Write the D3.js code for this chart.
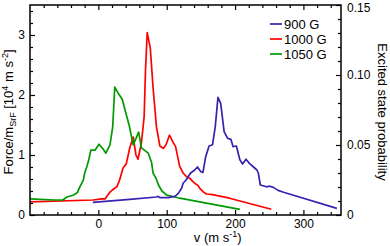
<!DOCTYPE html>
<html>
<head>
<meta charset="utf-8">
<script src="https://cdn.jsdelivr.net/npm/d3@7"></script>
<style>
  body { margin: 0; background: #fff; }
  text { font-family: "Liberation Sans", Arial, Helvetica, sans-serif; }
</style>
</head>
<body>
<svg id="chart"></svg>
<script>
// legend / series names
const seriesNames = ['900 G', '1000 G', '1050 G'];

// 900 G : velocity (m/s) and force (10^4 m s^-2)
const v900 = [-8, 46, 85, 87, 90, 102, 112, 117, 122, 124, 128, 135, 141, 145, 150, 153, 157, 162, 167, 171, 175, 179, 184, 189, 194, 197, 202, 207, 211, 216, 221, 227, 232, 234, 237, 246, 251, 256, 263, 271, 349];
const f900 = [0.21, 0.26, 0.30, 0.31, 0.29, 0.29, 0.31, 0.36, 0.45, 0.53, 0.58, 0.70, 0.75, 0.80, 0.72, 0.71, 0.97, 1.15, 1.17, 1.47, 1.96, 1.86, 1.39, 1.28, 1.26, 1.14, 1.15, 0.92, 0.85, 0.93, 0.86, 0.80, 0.75, 0.70, 0.50, 0.47, 0.48, 0.46, 0.41, 0.38, 0.11];

// 1000 G
const v1000 = [-100, -8, 5, 10, 13, 17, 22, 27, 31, 36, 41, 46, 51, 55, 58, 63, 67, 69, 71.5, 76, 80, 85, 90, 95, 99, 104, 109, 113, 119, 124, 128, 134, 138, 141, 146, 148, 153, 158, 167, 192, 253];
const f1000 = [0.22, 0.25, 0.27, 0.27, 0.32, 0.38, 0.43, 0.47, 0.58, 0.78, 0.86, 1.12, 1.30, 1.00, 0.93, 1.20, 1.64, 2.42, 3.04, 2.78, 2.13, 1.47, 1.15, 1.11, 1.17, 1.33, 1.22, 1.14, 0.81, 0.70, 0.65, 0.61, 0.56, 0.53, 0.49, 0.45, 0.39, 0.35, 0.34, 0.28, 0.095];

// 1050 G
const v1050 = [-100, -64, -52, -46, -37, -31, -27, -22, -20, -17, -14, -11, -5, 1, 7, 11, 17, 21, 24, 29, 35, 39, 45, 51, 59, 63, 73, 78, 80, 84, 88, 93, 100, 112, 119, 207];
const f1050 = [0.27, 0.25, 0.25, 0.30, 0.33, 0.37, 0.47, 0.58, 0.70, 0.80, 0.92, 1.08, 1.08, 1.18, 1.10, 1.03, 1.17, 1.47, 2.13, 2.03, 1.93, 1.75, 1.50, 1.17, 1.38, 1.12, 1.03, 0.87, 0.70, 0.62, 0.50, 0.40, 0.33, 0.30, 0.28, 0.095];

// axis ticks
const xMajor = [0, 100, 200, 300];
const yLeftMajor = [0, 1, 2, 3];
const yRightMajor = [0, 0.05, 0.10, 0.15];
const yRightLabels = ['0', '0.05', '0.10', '0.15'];

const width = 390, height = 246;
const L = 30, R = 341, T = 5, B = 215;

const svg = d3.select('#chart')
  .attr('width', width)
  .attr('height', height);

const x = d3.scaleLinear().domain([-100, 355]).range([L, R]);
const y = d3.scaleLinear().domain([0, 3.5]).range([B, T]);
const y2 = d3.scaleLinear().domain([0, 0.15]).range([B, T]);

const colors = ['#3a22b0', '#ff0000', '#009a00'];
const series = [
  { name: seriesNames[0], v: v900, f: f900, color: colors[0] },
  { name: seriesNames[1], v: v1000, f: f1000, color: colors[1] },
  { name: seriesNames[2], v: v1050, f: f1050, color: colors[2] }
];

// curves
const line = d3.line()
  .x(d => x(d[0]))
  .y(d => y(d[1]));

[series[1], series[2], series[0]].forEach(s => {
  svg.append('path')
    .datum(s.v.map((vv, i) => [vv, s.f[i]]))
    .attr('fill', 'none')
    .attr('stroke', s.color)
    .attr('stroke-width', 1.7)
    .attr('stroke-linejoin', 'round')
    .attr('d', line);
});

// axes, ticks pointing inward
function styleAxis(g) {
  g.select('.domain').remove();
  g.selectAll('line').attr('stroke', '#000').attr('stroke-width', 1.2);
  g.selectAll('text').attr('font-size', 12).attr('fill', '#000')
    .style('font-family', '"Liberation Sans", Arial, sans-serif');
}

const xMinor = d3.range(-80, 355, 20).filter(d => !xMajor.includes(d));

svg.append('g').attr('transform', `translate(0,${B})`)
  .call(d3.axisBottom(x).tickValues(xMajor).tickSizeInner(-5).tickSizeOuter(0).tickPadding(4))
  .call(styleAxis);
svg.append('g').attr('transform', `translate(0,${B})`)
  .call(d3.axisBottom(x).tickValues(xMinor).tickSizeInner(-3).tickSizeOuter(0).tickFormat(''))
  .call(styleAxis);
svg.append('g').attr('transform', `translate(0,${T})`)
  .call(d3.axisTop(x).tickValues(xMajor).tickSizeInner(-5).tickSizeOuter(0).tickFormat(''))
  .call(styleAxis);
svg.append('g').attr('transform', `translate(0,${T})`)
  .call(d3.axisTop(x).tickValues(xMinor).tickSizeInner(-3).tickSizeOuter(0).tickFormat(''))
  .call(styleAxis);

svg.append('g').attr('transform', `translate(${L},0)`)
  .call(d3.axisLeft(y).tickValues(yLeftMajor).tickSizeInner(-5).tickSizeOuter(0).tickPadding(5).tickFormat(d3.format('d')))
  .call(styleAxis);
svg.append('g').attr('transform', `translate(${L},0)`)
  .call(d3.axisLeft(y).tickValues(d3.range(0.2, 3.5, 0.2).filter(d => Math.abs(d - Math.round(d)) > 1e-6))
    .tickSizeInner(-3).tickSizeOuter(0).tickFormat(''))
  .call(styleAxis);

const rightAxis = svg.append('g').attr('transform', `translate(${R},0)`)
  .call(d3.axisRight(y2).tickValues(yRightMajor).tickSizeInner(-5).tickSizeOuter(0).tickPadding(6)
    .tickFormat((d, i) => yRightLabels[i]))
  .call(styleAxis);
// keep the top label inside the picture
rightAxis.selectAll('.tick text').filter(d => d === 0.15).attr('dy', '0.5em');
svg.append('g').attr('transform', `translate(${R},0)`)
  .call(d3.axisRight(y2).tickValues(d3.range(1, 15).filter(k => k % 5 !== 0).map(k => k / 100))
    .tickSizeInner(-3).tickSizeOuter(0).tickFormat(''))
  .call(styleAxis);

// frame
svg.append('rect')
  .attr('x', L).attr('y', T)
  .attr('width', R - L).attr('height', B - T)
  .attr('fill', 'none').attr('stroke', '#000').attr('stroke-width', 1.5);

// axis titles
const yl = svg.append('text')
  .attr('transform', `translate(12.5,${(T + B) / 2 + 2}) rotate(-90)`)
  .attr('text-anchor', 'middle')
  .attr('font-size', 13);
yl.append('tspan').text('Force/m');
yl.append('tspan').attr('font-size', 9).attr('dy', 3).text('SrF');
yl.append('tspan').attr('dy', -3).text(' [10');
yl.append('tspan').attr('font-size', 9).attr('dy', -5).text('4');
yl.append('tspan').attr('dy', 5).text(' m s');
yl.append('tspan').attr('font-size', 9).attr('dy', -5).text('-2');
yl.append('tspan').attr('dy', 5).text(']');

svg.append('text')
  .attr('transform', `translate(378,${(T + B) / 2 + 2}) rotate(90)`)
  .attr('text-anchor', 'middle')
  .attr('font-size', 13)
  .text('Excited state probability');

const xl = svg.append('text')
  .attr('x', (x(0) + x(355)) / 2 - 2).attr('y', 242)
  .attr('text-anchor', 'middle')
  .attr('font-size', 13);
xl.append('tspan').text('v (m s');
xl.append('tspan').attr('font-size', 9).attr('dy', -5).text('-1');
xl.append('tspan').attr('dy', 5).text(')');

// legend
const lg = svg.append('g');
series.forEach((s, i) => {
  const yy = 24 + i * 15;
  lg.append('line')
    .attr('x1', 270).attr('x2', 282).attr('y1', yy).attr('y2', yy)
    .attr('stroke', s.color).attr('stroke-width', 1.7);
  lg.append('text')
    .attr('x', 284).attr('y', yy).attr('dy', '0.36em')
    .attr('font-size', 13)
    .text(s.name);
});
</script>
</body>
</html>
